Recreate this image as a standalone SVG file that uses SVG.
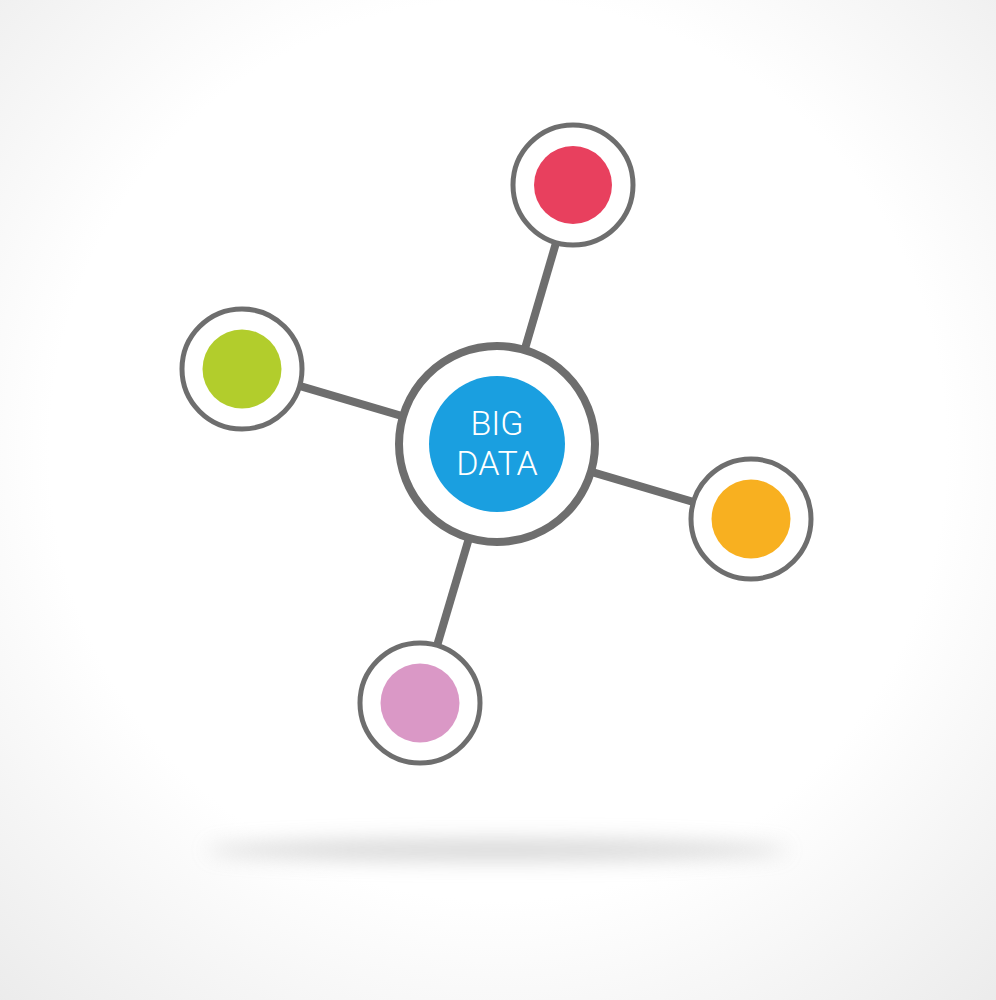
<svg xmlns="http://www.w3.org/2000/svg" width="996" height="1000" viewBox="0 0 996 1000">
<defs>
<radialGradient id="bg" cx="50%" cy="45%" r="75%">
<stop offset="0.6" stop-color="#ffffff"/>
<stop offset="1" stop-color="#ebebeb"/>
</radialGradient>
<filter id="blur" x="-20%" y="-200%" width="140%" height="500%">
<feGaussianBlur stdDeviation="10"/>
</filter>
<style>
.ring{fill:#ffffff;stroke:#6e6e6e;stroke-width:5}
.link{stroke:#6e6e6e;stroke-width:8;stroke-linecap:butt}
.lbl{font-family:Roboto,"Liberation Sans",sans-serif;font-weight:300;font-size:34px;fill:#ffffff;text-anchor:middle}
</style>
</defs>
<rect width="996" height="1000" fill="url(#bg)"/>
<ellipse cx="497" cy="850" rx="290" ry="11" fill="#c8c8c8" opacity="0.7" filter="url(#blur)"/>
<g id="connectors">
<line class="link" x1="497" y1="444" x2="573" y2="185"/>
<line class="link" x1="497" y1="444" x2="242" y2="369"/>
<line class="link" x1="497" y1="444" x2="751" y2="519"/>
<line class="link" x1="497" y1="444" x2="420" y2="703"/>
</g>
<g id="node-red">
<circle class="ring" cx="573" cy="185" r="60"/>
<circle cx="573" cy="185" r="39" fill="#e8405e"/>
</g>
<g id="node-green">
<circle class="ring" cx="242" cy="369" r="60"/>
<circle cx="242" cy="369" r="39.5" fill="#b2cd2c"/>
</g>
<g id="node-orange">
<circle class="ring" cx="751" cy="519" r="60"/>
<circle cx="751" cy="519" r="39.5" fill="#f8b020"/>
</g>
<g id="node-pink">
<circle class="ring" cx="420" cy="703" r="60"/>
<circle cx="420" cy="703" r="39.5" fill="#da98c6"/>
</g>
<g id="node-center">
<circle cx="497" cy="444" r="98" fill="#ffffff" stroke="#6e6e6e" stroke-width="8"/>
<circle cx="497" cy="444" r="68" fill="#1a9fe0"/>
<text class="lbl" x="497" y="435">BIG</text>
<text class="lbl" x="497" y="475">DATA</text>
</g>
</svg>
